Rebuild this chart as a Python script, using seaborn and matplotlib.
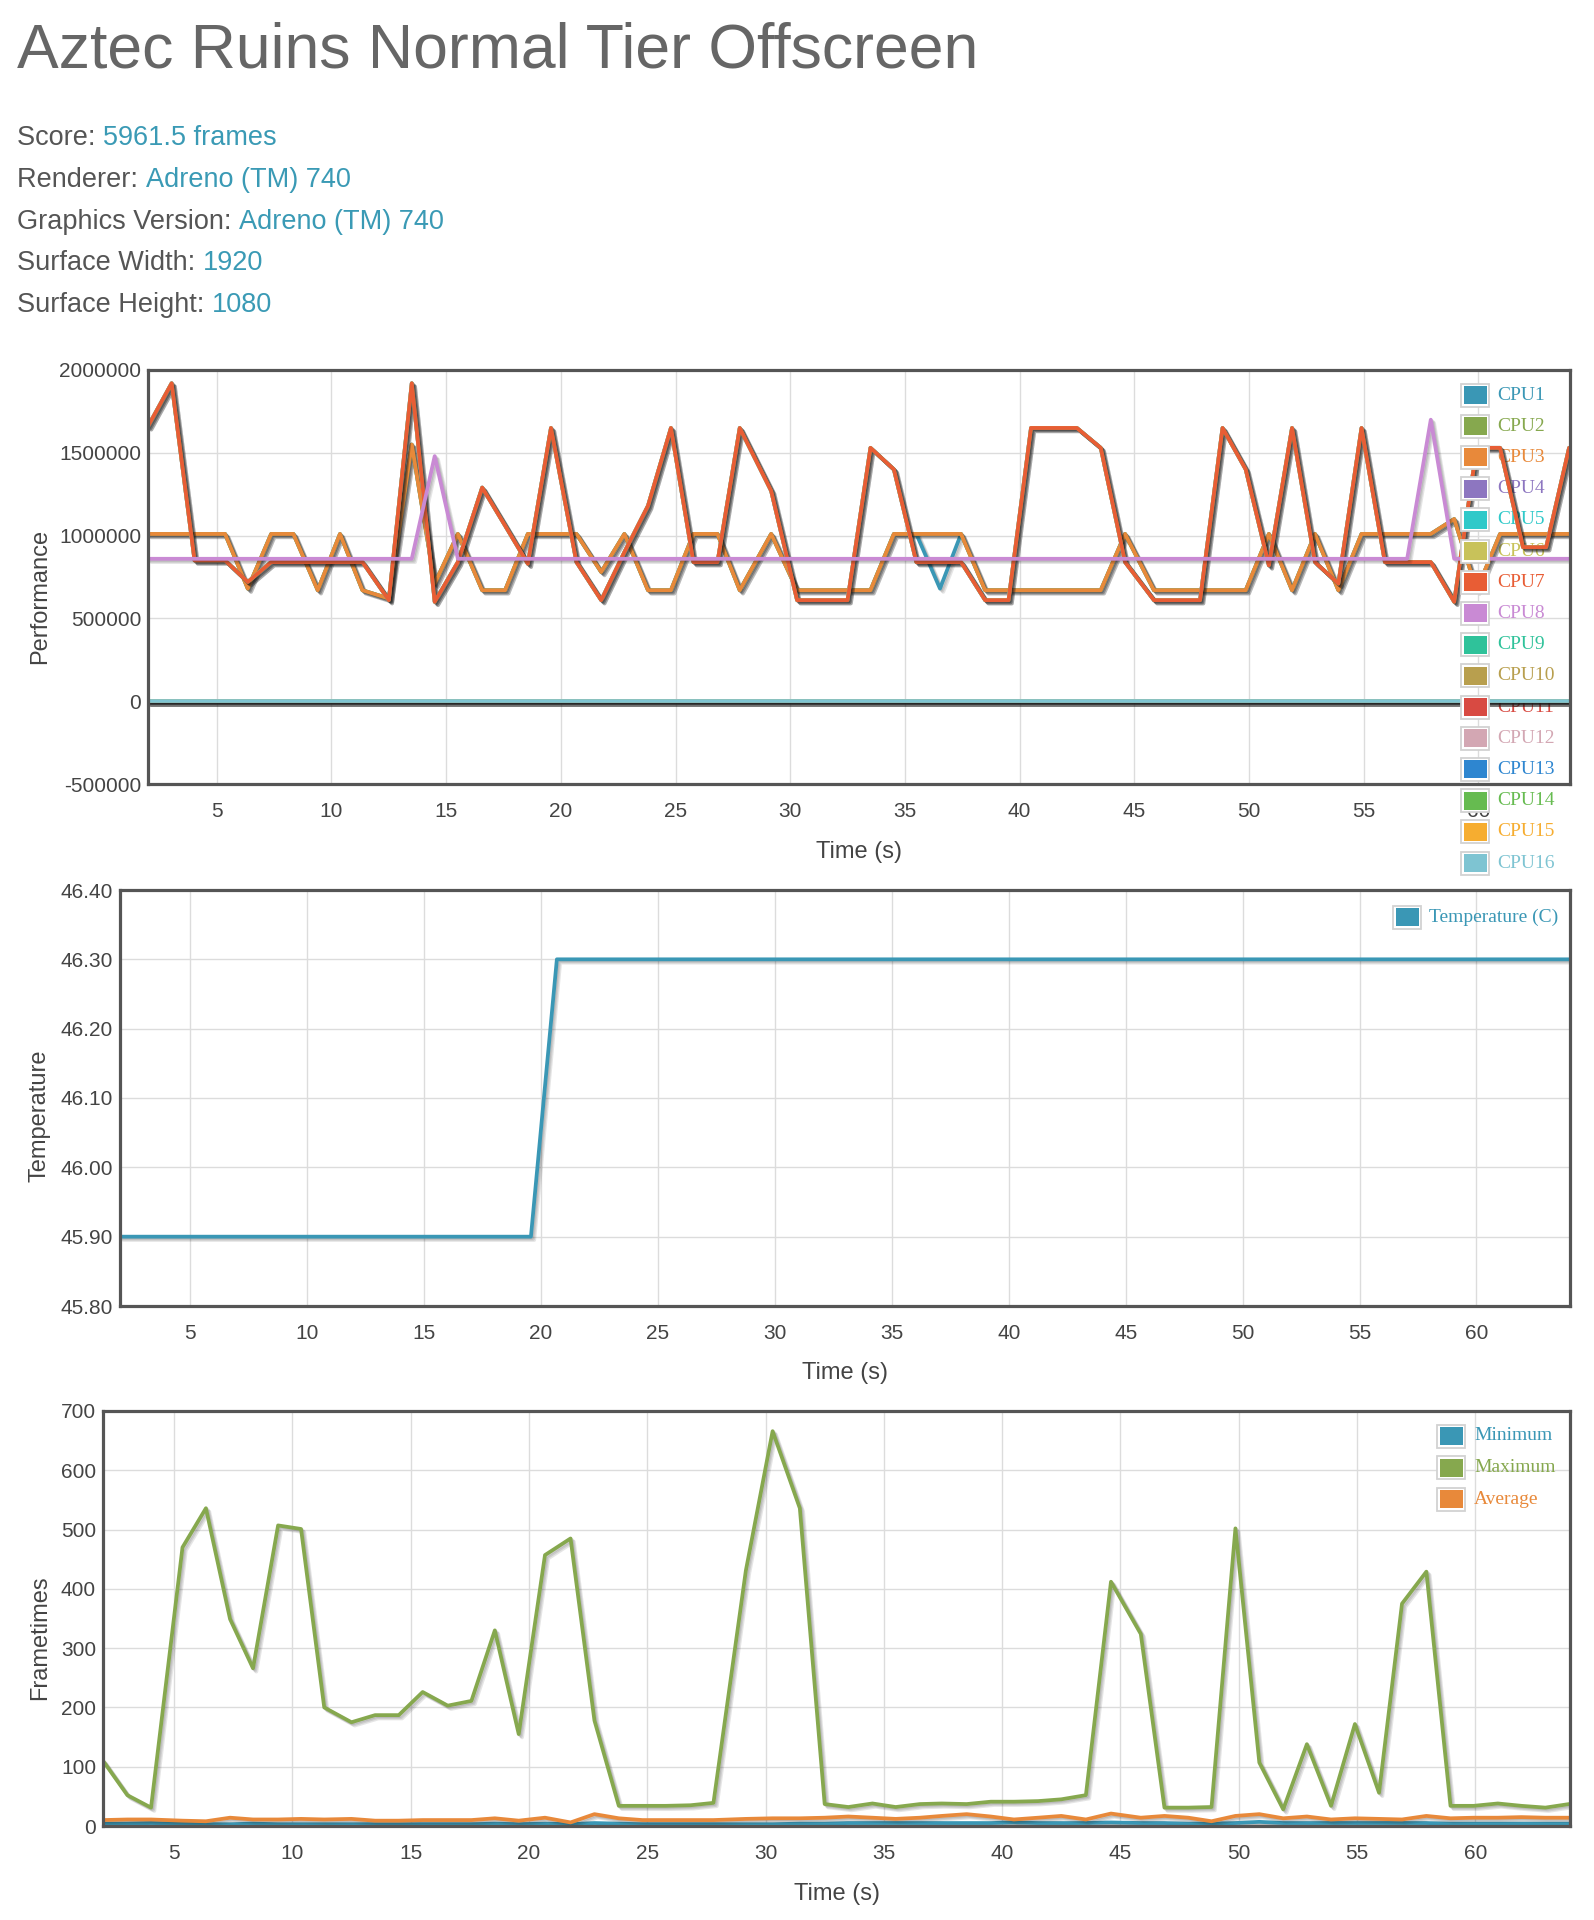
import matplotlib
matplotlib.use("Agg")
import matplotlib.pyplot as plt
import matplotlib.patheffects as pe
from matplotlib.patches import Rectangle
import seaborn as sns

sns.set_theme(style="white")
plt.rcParams['font.family'] = ['Liberation Sans', 'DejaVu Sans']

# ---------------- data ----------------
title = "Aztec Ruins Normal Tier Offscreen"
info_labels = ["Score: ", "Renderer: ", "Graphics Version: ", "Surface Width: ", "Surface Height: "]
info_values = ["5961.5 frames", "Adreno (TM) 740", "Adreno (TM) 740", "1920", "1080"]

time_s = [2.0, 3.03, 4.03, 5.36, 6.35, 7.37, 8.34, 9.4, 10.37, 11.35,
          12.5, 13.5, 14.5, 15.51, 16.57, 17.57, 18.56, 19.57, 20.68, 21.76,
          22.77, 23.8, 24.8, 25.78, 26.83, 27.8, 29.17, 30.3, 31.45, 32.5,
          33.5, 34.52, 35.5, 36.53, 37.45, 38.5, 39.52, 40.5, 41.52, 42.5,
          43.54, 44.6, 45.86, 46.86, 47.87, 48.85, 49.86, 50.87, 51.88, 52.88,
          53.9, 54.91, 55.93, 56.9, 57.93, 58.95, 59.93, 60.95, 61.95, 62.96,
          63.96]

cpu_names = ["CPU%d" % i for i in range(1, 17)]

cpu1 = [1010000, 1010000, 1010000, 1010000, 680000, 1010000, 1010000, 670000, 1010000, 670000,
        620000, 1550000, 710000, 1010000, 670000, 670000, 1010000, 1010000, 1010000, 780000,
        1010000, 670000, 670000, 1010000, 1010000, 670000, 1010000, 670000, 670000, 670000,
        670000, 1010000, 1010000, 680000, 1010000, 670000, 670000, 670000, 670000, 670000,
        670000, 1010000, 670000, 670000, 670000, 670000, 670000, 1010000, 670000, 1010000,
        670000, 1010000, 1010000, 1010000, 1010000, 1100000, 670000, 1010000, 1010000, 1010000,
        1010000]

cpu2_3 = [1010000, 1010000, 1010000, 1010000, 680000, 1010000, 1010000, 670000, 1010000, 670000,
          620000, 1550000, 710000, 1010000, 670000, 670000, 1010000, 1010000, 1010000, 780000,
          1010000, 670000, 670000, 1010000, 1010000, 670000, 1010000, 670000, 670000, 670000,
          670000, 1010000, 1010000, 1010000, 1010000, 670000, 670000, 670000, 670000, 670000,
          670000, 1010000, 670000, 670000, 670000, 670000, 670000, 1010000, 670000, 1010000,
          670000, 1010000, 1010000, 1010000, 1010000, 1100000, 670000, 1010000, 1010000, 1010000,
          1010000]

cpu4_7 = [1660000, 1920000, 850000, 850000, 720000, 840000, 840000, 840000, 840000, 840000,
          610000, 1920000, 600000, 840000, 1290000, 1060000, 830000, 1650000, 840000, 610000,
          900000, 1180000, 1650000, 840000, 840000, 1650000, 1270000, 610000, 610000, 610000,
          1530000, 1400000, 840000, 840000, 840000, 610000, 610000, 1650000, 1650000, 1650000,
          1530000, 840000, 610000, 610000, 610000, 1650000, 1400000, 820000, 1650000, 840000,
          710000, 1650000, 840000, 840000, 840000, 600000, 1530000, 1530000, 930000, 930000,
          1530000]

cpu8 = [860000, 860000, 860000, 860000, 860000, 860000, 860000, 860000, 860000, 860000,
        860000, 860000, 1480000, 860000, 860000, 860000, 860000, 860000, 860000, 860000,
        860000, 860000, 860000, 860000, 860000, 860000, 860000, 860000, 860000, 860000,
        860000, 860000, 860000, 860000, 860000, 860000, 860000, 860000, 860000, 860000,
        860000, 860000, 860000, 860000, 860000, 860000, 860000, 860000, 860000, 860000,
        860000, 860000, 860000, 860000, 1700000, 860000, 860000, 860000, 860000, 860000,
        860000]

cpu9_16 = [0] * 61

temperature = [45.9, 45.9, 45.9, 45.9, 45.9, 45.9, 45.9, 45.9, 45.9, 45.9,
               45.9, 45.9, 45.9, 45.9, 45.9, 45.9, 45.9, 45.9, 46.3, 46.3,
               46.3, 46.3, 46.3, 46.3, 46.3, 46.3, 46.3, 46.3, 46.3, 46.3,
               46.3, 46.3, 46.3, 46.3, 46.3, 46.3, 46.3, 46.3, 46.3, 46.3,
               46.3, 46.3, 46.3, 46.3, 46.3, 46.3, 46.3, 46.3, 46.3, 46.3,
               46.3, 46.3, 46.3, 46.3, 46.3, 46.3, 46.3, 46.3, 46.3, 46.3,
               46.3]

ft_min = [4, 4, 5, 4, 3, 3, 4, 3, 3, 3,
          3, 3, 3, 3, 3, 3, 4, 3, 4, 3,
          5, 4, 3, 3, 3, 3, 3, 3, 4, 4,
          5, 5, 5, 5, 5, 5, 5, 6, 5, 5,
          5, 6, 5, 5, 4, 4, 5, 7, 5, 5,
          5, 5, 5, 5, 5, 4, 4, 4, 4, 4,
          4]
ft_max = [110, 52, 31, 470, 536, 349, 266, 507, 501, 200,
          175, 187, 187, 226, 203, 211, 330, 155, 457, 485,
          178, 34, 34, 34, 35, 39, 431, 666, 536, 37,
          32, 38, 32, 37, 38, 37, 41, 41, 42, 45,
          52, 412, 324, 31, 31, 32, 502, 107, 28, 138,
          34, 172, 56, 375, 429, 34, 34, 38, 34, 31,
          37]
ft_avg = [10, 11, 11, 9, 8, 14, 11, 11, 12, 11,
          12, 9, 9, 10, 10, 10, 13, 9, 14, 6,
          20, 13, 10, 10, 10, 10, 12, 13, 13, 14,
          16, 14, 12, 14, 17, 20, 16, 11, 14, 17,
          11, 21, 14, 17, 14, 8, 17, 20, 13, 16,
          11, 13, 12, 11, 17, 13, 14, 14, 15, 14,
          14]

x_ticks = [5, 10, 15, 20, 25, 30, 35, 40, 45, 50, 55, 60]
perf_ticks = [-500000, 0, 500000, 1000000, 1500000, 2000000]
temp_ticks = [45.8, 45.9, 46.0, 46.1, 46.2, 46.3, 46.4]
ft_ticks = [0, 100, 200, 300, 400, 500, 600, 700]

cpu_colors = ["#3a97b5", "#86a84e", "#e8893a", "#8d76c0", "#30c9c9", "#c8c25a",
              "#e85d35", "#c98ad4", "#2fc29a", "#b89f4e", "#d84a42", "#d3a7b3",
              "#2e86d0", "#66bb50", "#f6ad30", "#7ec4d2"]
c_min, c_max, c_avg = "#3a97b5", "#86a84e", "#e8893a"

# ---------------- figure ----------------
W, H = 1594, 1920
fig = plt.figure(figsize=(W / 100, H / 100), dpi=100)
fig.patch.set_facecolor("white")

TXT = "#444444"
TEAL = "#3a9ab5"


def axes_px(left, top, right, bottom):
    return fig.add_axes([left / W, 1 - bottom / H, (right - left) / W, (bottom - top) / H])


shadow = [pe.SimpleLineShadow(offset=(0.8, -0.8), shadow_color="k", alpha=0.11),
          pe.SimpleLineShadow(offset=(1.6, -1.6), shadow_color="k", alpha=0.11),
          pe.SimpleLineShadow(offset=(2.4, -2.4), shadow_color="k", alpha=0.11),
          pe.Normal()]


def style_axes(ax, yticks, ylabels, ylab, xlab_off, ylab_x, ylab_y):
    ax.set_facecolor("white")
    ax.set_xlim(2, 64)
    ax.set_ylim(yticks[0], yticks[-1])
    ax.set_xticks(x_ticks)
    ax.set_xticklabels([str(v) for v in x_ticks])
    ax.set_yticks(yticks)
    ax.set_yticklabels(ylabels)
    ax.grid(True, color="#dcdcdc", linewidth=1.0)
    ax.set_axisbelow(True)
    for s in ax.spines.values():
        s.set_visible(True)
        s.set_color("#555555")
        s.set_linewidth(2.3)
        s.set_zorder(6)
    ax.tick_params(axis="both", length=0, labelsize=15, labelcolor=TXT)
    ax.tick_params(axis="x", pad=13)
    ax.tick_params(axis="y", pad=5)
    ax.set_xlabel("Time (s)", fontsize=17, color=TXT, va="center")
    ax.xaxis.set_label_coords(0.5, xlab_off)
    ax.set_ylabel(ylab, fontsize=17, color=TXT, va="center", ha="center")
    ax.yaxis.set_label_coords(ylab_x, ylab_y)


def draw_legend(ax, labels, colors, sq_left, yc0, dy, text_x):
    for i, (lab, c) in enumerate(zip(labels, colors)):
        yc = yc0 + i * dy
        ax.add_patch(Rectangle((sq_left / W, 1 - (yc + 11.5) / H), 28 / W, 23 / H,
                               transform=fig.transFigure, facecolor="white",
                               edgecolor="#d2d2d2", linewidth=1.3, clip_on=False, zorder=7))
        ax.add_patch(Rectangle(((sq_left + 2.5) / W, 1 - (yc + 9) / H), 23 / W, 18 / H,
                               transform=fig.transFigure, facecolor=c,
                               edgecolor="none", clip_on=False, zorder=8))
        ax.text(text_x / W, 1 - yc / H, lab, transform=fig.transFigure, color=c,
                fontsize=14, family=["Liberation Serif", "DejaVu Serif"],
                va="center", ha="left", clip_on=False, zorder=1.5)


# ---------------- header ----------------
fig.text(17 / W, 1 - 67 / H, title, fontsize=45, color="#666666", va="baseline", ha="left")
renderer = fig.canvas.get_renderer()
info_y = [145, 187, 229, 270, 312]
for lab, val, y in zip(info_labels, info_values, info_y):
    t = fig.text(17 / W, 1 - y / H, lab, fontsize=19.5, color="#555555", va="baseline", ha="left")
    bb = t.get_window_extent(renderer)
    fig.text(bb.x1 / W, 1 - y / H, val, fontsize=19.5, color=TEAL, va="baseline", ha="left")

# ---------------- chart 1: CPU performance ----------------
ax1 = axes_px(148, 370, 1570, 784)
cpu_series = [cpu1, cpu2_3, cpu2_3, cpu4_7, cpu4_7, cpu4_7, cpu4_7, cpu8] + [cpu9_16] * 8
for vals, c in zip(cpu_series, cpu_colors):
    sns.lineplot(x=time_s, y=vals, ax=ax1, color=c, linewidth=2.7, path_effects=shadow,
                 sort=False, estimator=None, legend=False)
style_axes(ax1, perf_ticks, [str(v) for v in perf_ticks], "Performance",
           -(852 - 784) / 414, (40 - 148) / 1422, (784 - 596) / 414)
draw_legend(ax1, cpu_names, cpu_colors, 1461, 395, 31.2, 1497)

# ---------------- chart 2: temperature ----------------
ax2 = axes_px(120, 890, 1570, 1306)
sns.lineplot(x=time_s, y=temperature, ax=ax2, color=c_min, linewidth=2.7, path_effects=shadow,
             sort=False, estimator=None, legend=False)
style_axes(ax2, temp_ticks, ["%.2f" % v for v in temp_ticks], "Temperature",
           -(1373 - 1306) / 416, (40 - 120) / 1450, (1306 - 1116) / 416)
draw_legend(ax2, ["Temperature (C)"], [c_min], 1393, 917, 31, 1429)

# ---------------- chart 3: frametimes ----------------
ax3 = axes_px(103, 1411, 1570, 1826)
for vals, c in zip([ft_min, ft_max, ft_avg], [c_min, c_max, c_avg]):
    sns.lineplot(x=time_s, y=vals, ax=ax3, color=c, linewidth=2.7, path_effects=shadow,
                 sort=False, estimator=None, legend=False)
style_axes(ax3, ft_ticks, [str(v) for v in ft_ticks], "Frametimes",
           -(1894 - 1826) / 415, (40 - 103) / 1467, (1826 - 1638) / 415)
draw_legend(ax3, ["Minimum", "Maximum", "Average"], [c_min, c_max, c_avg], 1437, 1436, 31.5, 1474)

fig.savefig("out.png", dpi=100, facecolor="white")
